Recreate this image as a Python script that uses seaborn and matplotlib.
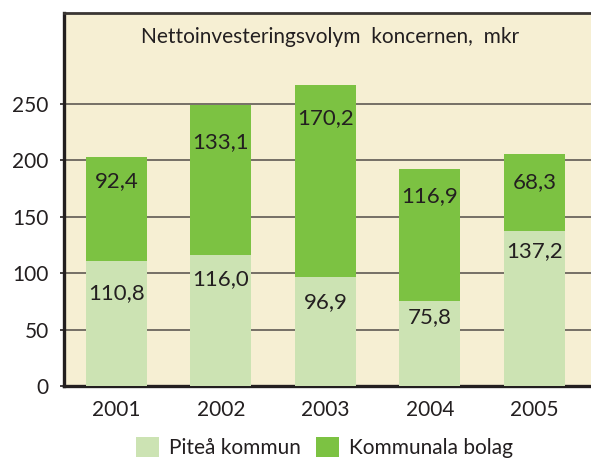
import matplotlib
matplotlib.use("Agg")
import matplotlib.pyplot as plt
from matplotlib.patches import Patch
import seaborn as sns
import pandas as pd
import numpy as np

years = ["2001", "2002", "2003", "2004", "2005"]
pitea = [110.8, 116.0, 96.9, 75.8, 137.2]
bolag = [92.4, 133.1, 170.2, 116.9, 68.3]
pitea_labels = ["110,8", "116,0", "96,9", "75,8", "137,2"]
bolag_labels = ["92,4", "133,1", "170,2", "116,9", "68,3"]
yticks = [0, 50, 100, 150, 200, 250]
title = "Nettoinvesteringsvolym  koncernen,  mkr"
legend_names = ["Piteå kommun", "Kommunala bolag"]

# label placement (data units)
pitea_label_y = [82.4, 94.9, 74.5, 61.2, 119.7]
bolag_label_y = [181.7, 216.3, 237.6, 168.4, 180.9]

light = "#cce3b3"
dark = "#7cc242"
bg = "#f6efd3"
ink = "#231f20"

sns.set_theme(style="white")
plt.rcParams["font.family"] = ["Lato", "DejaVu Sans"]

df = pd.DataFrame({"year": years, "pitea": pitea, "bolag": bolag})
df["total"] = df["pitea"] + df["bolag"]

fig = plt.figure(figsize=(5.91, 4.59), dpi=100)
ax = fig.add_axes([64 / 591, 1 - 386 / 459, (596 - 64) / 591, (386 - 13) / 459])
ax.set_facecolor(bg)

sns.barplot(data=df, x="year", y="total", color=dark, saturation=1, width=0.584,
            ax=ax, zorder=3, linewidth=0)
sns.barplot(data=df, x="year", y="pitea", color=light, saturation=1, width=0.584,
            ax=ax, zorder=4, linewidth=0)

for i in range(len(years)):
    ax.text(i, pitea_label_y[i], pitea_labels[i], ha="center", va="center",
            fontsize=16, color=ink, zorder=5)
    ax.text(i, bolag_label_y[i], bolag_labels[i], ha="center", va="center",
            fontsize=16, color=ink, zorder=5)

ax.set_xlim(-0.502, 4.59)
ax.set_ylim(0, 330.7)
ax.set_yticks(yticks)
ax.set_yticklabels([str(t) for t in yticks], fontsize=15, color=ink)
ax.set_xticks(range(len(years)))
ax.set_xticklabels(years, fontsize=15, color=ink)
ax.set_xlabel("")
ax.set_ylabel("")
ax.tick_params(axis="y", length=3, width=1.2, color=ink, pad=8, left=True)
ax.tick_params(axis="x", length=0, pad=10)

for t in yticks[1:]:
    ax.axhline(t, color="#6b655d", lw=1.3, zorder=1)

for s in ["left", "bottom"]:
    ax.spines[s].set_color(ink)
    ax.spines[s].set_linewidth(2.4)
ax.spines["top"].set_color("#3a3633")
ax.spines["top"].set_linewidth(2.0)
ax.spines["right"].set_visible(False)

ax.text(0.5, 0.935, title, transform=ax.transAxes, ha="center", va="center",
        fontsize=15, color=ink, zorder=6)

handles = [Patch(facecolor=light, edgecolor="none"), Patch(facecolor=dark, edgecolor="none")]
fig.legend(handles, legend_names, loc="center", bbox_to_anchor=(0.549, 0.026),
           ncol=2, frameon=False, fontsize=15, handlelength=1.1, handleheight=1.1,
           handletextpad=0.45, columnspacing=0.75, borderaxespad=0, labelcolor=ink)

fig.savefig("out.png", dpi=100)
